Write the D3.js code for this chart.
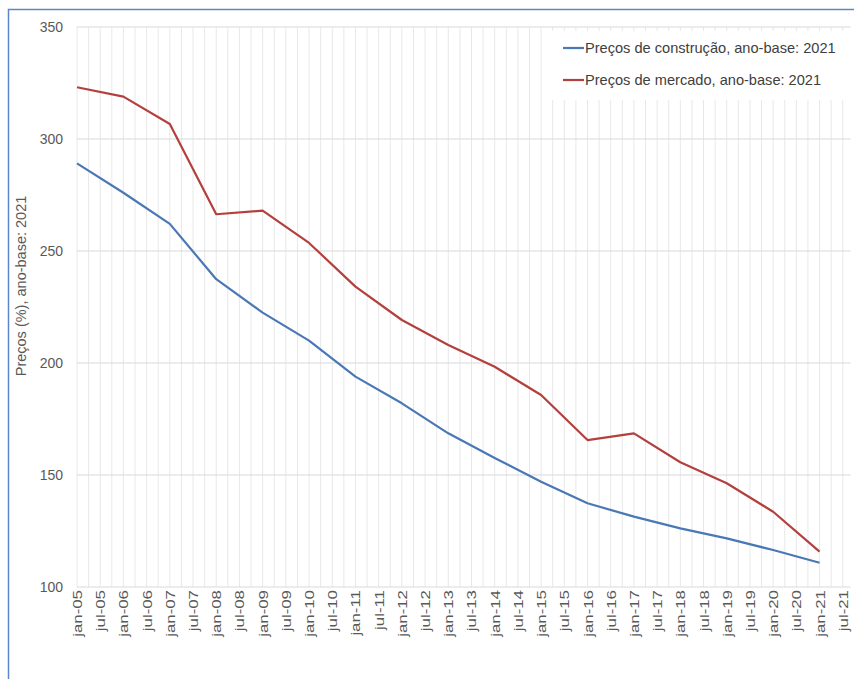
<!DOCTYPE html>
<html>
<head>
<meta charset="utf-8">
<script src="https://cdn.jsdelivr.net/npm/d3@7"></script>
<style>
  html, body { margin: 0; padding: 0; background: #fff; }
  svg { display: block; font-family: "Liberation Sans", Arial, sans-serif; }
</style>
</head>
<body>
<svg id="chart" width="854" height="679"></svg>
<script>
// Annual observations, January of each year
const years = [2005, 2006, 2007, 2008, 2009, 2010, 2011, 2012, 2013, 2014, 2015, 2016, 2017, 2018, 2019, 2020, 2021];
const construcao = [289.1, 276.0, 262.1, 237.4, 222.5, 210.0, 193.9, 182.0, 168.6, 157.6, 147.0, 137.4, 131.4, 126.2, 121.7, 116.5, 110.8];
const mercado = [323.1, 318.9, 306.7, 266.4, 268.0, 253.6, 234.1, 219.2, 208.0, 198.3, 185.7, 165.6, 168.6, 155.7, 146.3, 133.6, 115.8];
const seriesNames = ["Preços de construção, ano-base: 2021", "Preços de mercado, ano-base: 2021"];
const yTicks = [100, 150, 200, 250, 300, 350];
const monthNames = ["jan", "jul"];
const yTitle = "Preços (%), ano-base: 2021";

const colors = ["#4a78b6", "#b3403d"];

const svg = d3.select("#chart");

// Outer frame
svg.append("rect")
  .attr("x", 8.5).attr("y", 9.5)
  .attr("width", 900).attr("height", 700)
  .attr("fill", "none").attr("stroke", "#5b86c9").attr("stroke-width", 1.5);

// x position expressed in months since jan-2005
const x = d3.scaleLinear().domain([0, 200]).range([77, 850.5]);
const y = d3.scaleLinear().domain([100, 350]).range([587, 27]);

const gridG = svg.append("g");

// Quarterly vertical gridlines
const quarterTicks = d3.range(0, 201, 3);
gridG.selectAll("line.v").data(quarterTicks).join("line")
  .attr("class", "v")
  .attr("x1", d => x(d)).attr("x2", d => x(d))
  .attr("y1", y(350)).attr("y2", y(100))
  .attr("stroke", "#e8e8e8").attr("stroke-width", 1);

// Horizontal gridlines
gridG.selectAll("line.h").data(yTicks).join("line")
  .attr("class", "h")
  .attr("x1", x(0)).attr("x2", x(200))
  .attr("y1", d => y(d)).attr("y2", d => y(d))
  .attr("stroke", "#d9d9d9").attr("stroke-width", 1.2);

// Y axis labels
const yAxis = d3.axisLeft(y).tickValues(yTicks).tickSize(0).tickPadding(0);
const yG = svg.append("g").attr("transform", `translate(${x(0) - 14},0)`).call(yAxis);
yG.select(".domain").remove();
yG.selectAll("text")
  .attr("fill", "#595959").attr("font-size", 14)
  .attr("font-family", "Liberation Sans, Arial, sans-serif");

// X axis labels every six months
const halfYearTicks = d3.range(0, 199, 6);
const labelFor = m => {
  const yr = 5 + Math.floor(m / 12);
  return monthNames[(m % 12) / 6] + "-" + String(yr).padStart(2, "0");
};
const xAxis = d3.axisBottom(x).tickValues(halfYearTicks).tickFormat(labelFor).tickSize(0).tickPadding(0);
const xG = svg.append("g").attr("transform", `translate(0,${y(100)})`).call(xAxis);
xG.select(".domain").remove();
xG.selectAll("text")
  .attr("fill", "#595959").attr("font-size", 13.5)
  .attr("font-family", "Liberation Sans, Arial, sans-serif")
  .attr("text-anchor", "end")
  .attr("dy", null)
  .attr("y", 0)
  .attr("transform", "translate(4.5,3) rotate(-90) scale(1.25,1)");

// Y axis title
svg.append("text")
  .attr("transform", `translate(26,286) rotate(-90)`)
  .attr("text-anchor", "middle")
  .attr("fill", "#595959").attr("font-size", 14.5)
  .text(yTitle);

// Lines
const monthOf = yr => (yr - 2005) * 12;
const line = d3.line().x(d => x(monthOf(d.yr))).y(d => y(d.v));
[construcao, mercado].forEach((vals, i) => {
  const pts = years.map((yr, j) => ({ yr, v: vals[j] }));
  svg.append("path").datum(pts)
    .attr("d", line)
    .attr("fill", "none")
    .attr("stroke", colors[i])
    .attr("stroke-width", 2.2)
    .attr("stroke-linejoin", "round");
});

// Legend
const legend = svg.append("g");
legend.append("rect")
  .attr("x", 549).attr("y", 31).attr("width", 300).attr("height", 69)
  .attr("fill", "#fff");
seriesNames.forEach((name, i) => {
  const ly = 48 + i * 32;
  legend.append("line")
    .attr("x1", 563).attr("x2", 584).attr("y1", ly).attr("y2", ly)
    .attr("stroke", colors[i]).attr("stroke-width", 2.2);
  legend.append("text")
    .attr("x", 585).attr("y", ly + 5)
    .attr("fill", "#404040").attr("font-size", 14.6)
    .text(name);
});
</script>
</body>
</html>
